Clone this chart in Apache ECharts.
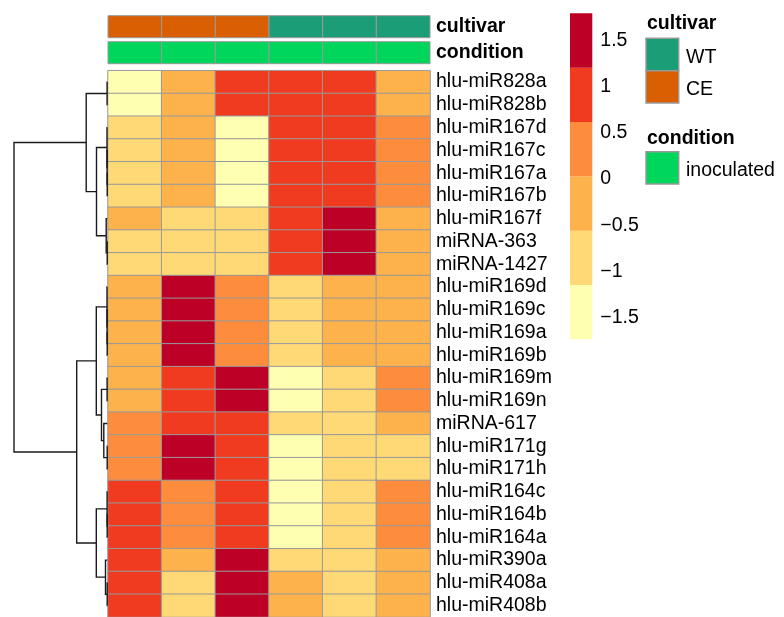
<!DOCTYPE html>
<html>
<head>
<meta charset="utf-8">
<script src="https://cdn.jsdelivr.net/npm/echarts@6/dist/echarts.min.js"></script>
<style>html,body{margin:0;padding:0;background:#fff;}#chart{width:784px;height:617px;}</style>
</head>
<body>
<div id="chart"></div>
<script>
// ---------- data ----------
const rowNames = ['hlu-miR828a','hlu-miR828b','hlu-miR167d','hlu-miR167c','hlu-miR167a','hlu-miR167b',
  'hlu-miR167f','miRNA-363','miRNA-1427','hlu-miR169d','hlu-miR169c','hlu-miR169a','hlu-miR169b',
  'hlu-miR169m','hlu-miR169n','miRNA-617','hlu-miR171g','hlu-miR171h','hlu-miR164c','hlu-miR164b',
  'hlu-miR164a','hlu-miR390a','hlu-miR408a','hlu-miR408b'];
const sampleNames = ['CE_1','CE_2','CE_3','WT_1','WT_2','WT_3'];
const cultivar = ['CE','CE','CE','WT','WT','WT'];
const condition = ['inoculated','inoculated','inoculated','inoculated','inoculated','inoculated'];
// row-scaled expression (z-scores), one row per miRNA, columns = samples
const zScores = [
  [-1.52,-0.31, 0.98, 0.93, 0.87,-0.42],
  [-1.49,-0.28, 0.95, 0.96, 0.84,-0.45],
  [-0.78,-0.36,-1.58, 1.02, 0.99, 0.42],
  [-0.81,-0.33,-1.55, 1.05, 0.97, 0.39],
  [-0.75,-0.39,-1.60, 1.00, 1.01, 0.44],
  [-0.79,-0.35,-1.57, 1.03, 0.98, 0.41],
  [-0.50,-0.90,-0.83, 0.85, 1.66,-0.20],
  [-0.72,-0.75,-0.70, 0.92, 1.70,-0.25],
  [-0.74,-0.73,-0.72, 0.90, 1.71,-0.24],
  [-0.35, 1.72, 0.35,-0.88,-0.40,-0.45],
  [-0.37, 1.70, 0.37,-0.86,-0.42,-0.43],
  [-0.34, 1.73, 0.33,-0.89,-0.38,-0.46],
  [-0.36, 1.71, 0.36,-0.87,-0.41,-0.44],
  [-0.30, 1.00, 1.55,-1.42,-0.82, 0.20],
  [-0.32, 0.98, 1.57,-1.40,-0.80, 0.18],
  [ 0.45, 1.12, 0.95,-1.00,-0.95,-0.50],
  [ 0.30, 1.65, 0.80,-1.35,-0.72,-0.68],
  [ 0.28, 1.63, 0.83,-1.33,-0.74,-0.66],
  [ 1.10, 0.40, 0.95,-1.60,-0.90, 0.15],
  [ 1.08, 0.42, 0.97,-1.58,-0.92, 0.12],
  [ 1.12, 0.38, 0.93,-1.62,-0.88, 0.10],
  [ 0.92,-0.30, 1.60,-0.85,-0.95,-0.42],
  [ 0.88,-0.80, 1.62,-0.30,-0.98,-0.44],
  [ 0.90,-0.78, 1.60,-0.32,-0.96,-0.46]
];
const colorBreaks = [-1.735,-1.147,-0.559,0.029,0.617,1.205,1.793];
const colorPalette = ['#FFFFB2','#FED976','#FEB24C','#FD8D3C','#F03B20','#BD0026'];
const legendTicks = [-1.5,-1,-0.5,0,0.5,1,1.5];
const cultivarColors = {WT:'#1B9E77', CE:'#D95F02'};
const conditionColors = {inoculated:'#00D65C'};
// hclust-style merges: negative = leaf (1-based row), positive = earlier merge; third = height
const rowMerges = [
  [-1,-2,0.02],[-5,-6,0.01],[-4,2,0.02],[-3,3,0.03],[-8,-9,0.01],[-7,5,0.11],[4,6,1.08],[1,7,2.11],
  [-12,-13,0.01],[-11,9,0.02],[-10,10,0.03],[-14,-15,0.02],[-17,-18,0.01],[-16,13,0.35],[12,14,0.58],
  [11,15,1.10],[-20,-21,0.01],[-19,17,0.02],[-23,-24,0.01],[-22,19,0.18],[18,20,1.10],[16,21,3.06],
  [8,22,9.33]
];

// ---------- derived ----------
const FONT = "'Liberation Sans', Arial, Helvetica, sans-serif";
const heatData = [];
zScores.forEach((row, r) => row.forEach((v, c) => heatData.push([c, r, v])));

const mergePos = [], mergeH = [];
const dendroLines = [];
rowMerges.forEach((m, i) => {
  const info = k => k < 0 ? [(-k) - 1, 0] : [mergePos[k - 1], mergeH[k - 1]];
  const [yl, hl] = info(m[0]);
  const [yr, hr] = info(m[1]);
  const h = m[2];
  mergePos[i] = (yl + yr) / 2;
  mergeH[i] = h;
  dendroLines.push({coords: [[hl, yl], [h, yl], [h, yr], [hr, yr]]});
});
const maxH = Math.max(...rowMerges.map(m => m[2]));

const legendBlocks = colorPalette.map((c, i) => [0, colorBreaks[i], colorBreaks[i + 1]]);

const HX = 108, HW = 322, HT = 70.7, HH = 547.4;
const labelStyle = {color:'#000', fontFamily: FONT, fontSize: 19.5};

function annSeries(values, colors, idx) {
  return {
    type:'custom', xAxisIndex: idx, yAxisIndex: idx,
    data: values.map((v, i) => [i, 0]),
    encode: {x: 0, y: 1},
    renderItem: function (params, api) {
      const p = api.coord([api.value(0), 0]);
      const s = api.size([1, 1]);
      return {type:'rect', shape:{x: p[0] - s[0] / 2, y: p[1] - s[1] / 2, width: s[0], height: s[1]},
        style:{fill: colors[values[params.dataIndex]], stroke:'#999', lineWidth:1}};
    }
  };
}

const hiddenCat = (gi, data) => ({type:'category', gridIndex: gi, data: data, boundaryGap: true,
  axisLine:{show:false}, axisTick:{show:false}, axisLabel:{show:false}, splitLine:{show:false}});

const option = {
  backgroundColor:'#fff',
  animation:false,
  textStyle:{fontFamily: FONT},
  grid:[
    {left: HX, top: 15.7, width: HW, height: 22},
    {left: HX, top: 41.7, width: HW, height: 22},
    {left: HX, top: HT, width: HW, height: HH},
    {left: 14, top: HT, width: HX - 0.7 - 14, height: HH},
    {left: 570, top: 13.3, width: 22.3, height: 326}
  ],
  xAxis:[
    hiddenCat(0, sampleNames),
    hiddenCat(1, sampleNames),
    hiddenCat(2, sampleNames),
    {type:'value', gridIndex:3, min:0, max:maxH, inverse:true, show:false},
    hiddenCat(4, ['scale'])
  ],
  yAxis:[
    {type:'category', gridIndex:0, data:['cultivar'], position:'right',
      axisLine:{show:false}, axisTick:{show:false},
      axisLabel:Object.assign({}, labelStyle, {fontWeight:'bold', margin:6, padding:[5,0,0,0]})},
    {type:'category', gridIndex:1, data:['condition'], position:'right',
      axisLine:{show:false}, axisTick:{show:false},
      axisLabel:Object.assign({}, labelStyle, {fontWeight:'bold', margin:6, padding:[5,0,0,0]})},
    {type:'category', gridIndex:2, data:rowNames, inverse:true, position:'right',
      axisLine:{show:false}, axisTick:{show:false}, splitLine:{show:false},
      axisLabel:Object.assign({}, labelStyle, {margin:6, interval:0, padding:[6,0,0,0]})},
    {type:'value', gridIndex:3, min:-0.5, max:rowNames.length - 0.5, inverse:true, show:false},
    {type:'value', gridIndex:4, min:colorBreaks[0], max:colorBreaks[colorBreaks.length - 1], position:'right',
      axisLine:{show:false}, axisTick:{show:false}, splitLine:{show:false},
      axisLabel:Object.assign({}, labelStyle, {margin:8, customValues: legendTicks, padding:[3,0,0,0],
        formatter: v => (v < 0 ? '\u2212' + Math.abs(v) : String(v))})}
  ],
  visualMap:{
    type:'piecewise', show:false, seriesIndex:2, dimension:2,
    pieces: colorPalette.map((c, i) => ({gte: colorBreaks[i], lt: colorBreaks[i + 1] + (i === colorPalette.length - 1 ? 1 : 0), color: c}))
  },
  series:[
    annSeries(cultivar, cultivarColors, 0),
    annSeries(condition, conditionColors, 1),
    {type:'heatmap', xAxisIndex:2, yAxisIndex:2, data: heatData,
      itemStyle:{borderColor:'#999', borderWidth:1}, emphasis:{disabled:true}},
    {type:'lines', coordinateSystem:'cartesian2d', xAxisIndex:3, yAxisIndex:3, polyline:true,
      data: dendroLines, lineStyle:{color:'#1a1a1a', width:1.4, opacity:1}, silent:true},
    {type:'custom', xAxisIndex:4, yAxisIndex:4, data: legendBlocks, encode:{x:0, y:[1,2]},
      renderItem: function (params, api) {
        const a = api.coord([0, api.value(2)]);
        const b = api.coord([0, api.value(1)]);
        const w = api.size([1, 0])[0];
        return {type:'rect', shape:{x: a[0] - w / 2, y: a[1], width: w, height: b[1] - a[1]},
          style:{fill: colorPalette[params.dataIndex]}};
      }}
  ],
  graphic:[
    {type:'text', left:647, top:14, style:{text:'cultivar', font:'bold 19.5px ' + FONT, fill:'#000'}},
    {type:'rect', shape:{x:646, y:38.3, width:32.7, height:32.4}, style:{fill:cultivarColors.WT, stroke:'#999', lineWidth:1.5}},
    {type:'rect', shape:{x:646, y:70.7, width:32.7, height:32.4}, style:{fill:cultivarColors.CE, stroke:'#999', lineWidth:1.5}},
    {type:'text', left:686, top:48, style:{text:'WT', font:'19.5px ' + FONT, fill:'#000'}},
    {type:'text', left:686, top:80, style:{text:'CE', font:'19.5px ' + FONT, fill:'#000'}},
    {type:'text', left:647, top:129, style:{text:'condition', font:'bold 19.5px ' + FONT, fill:'#000'}},
    {type:'rect', shape:{x:646, y:151.7, width:32.7, height:32.4}, style:{fill:conditionColors.inoculated, stroke:'#999', lineWidth:1.5}},
    {type:'text', left:686, top:161, style:{text:'inoculated', font:'19.5px ' + FONT, fill:'#000'}}
  ]
};

const chart = echarts.init(document.getElementById('chart'), null, {renderer:'canvas'});
chart.setOption(option);
</script>
</body>
</html>
